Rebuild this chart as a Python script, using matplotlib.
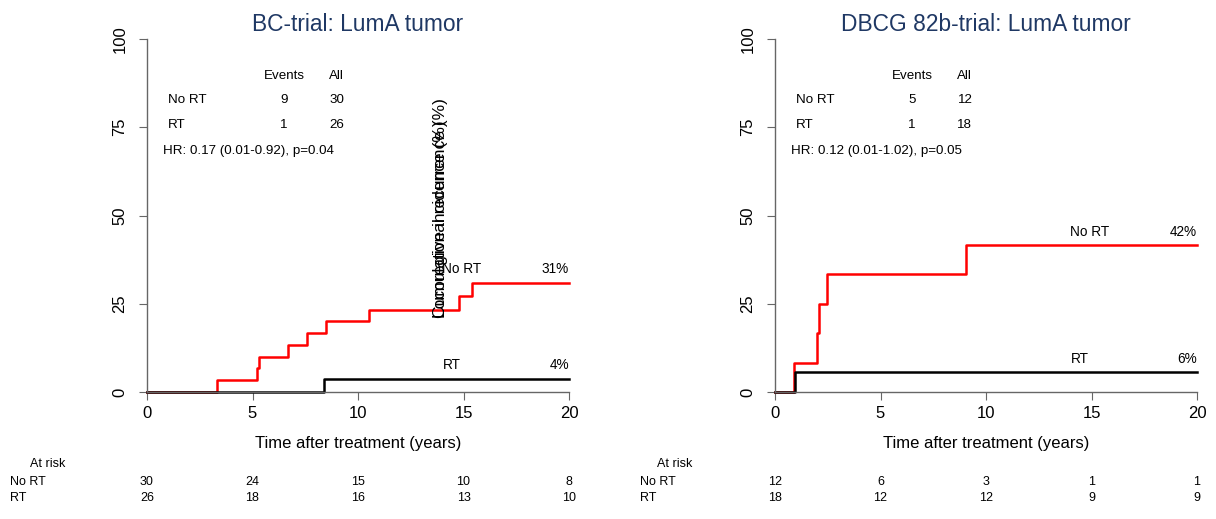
import matplotlib.pyplot as plt
import matplotlib.transforms as mtransforms

plt.rcParams['font.family'] = ['Liberation Sans', 'DejaVu Sans']

# --- data ---
titles = ["BC-trial: LumA tumor", "DBCG 82b-trial: LumA tumor"]

# cumulative incidence (%) step curves
bc_nort_t = [0, 3.3, 5.2, 5.3, 6.7, 7.6, 8.5, 10.5, 14.8, 15.4, 20]
bc_nort_y = [0, 3.3, 6.7, 10.0, 13.3, 16.7, 20.0, 23.3, 27.2, 31.0, 31.0]
bc_rt_t = [0, 8.4, 20]
bc_rt_y = [0, 3.8, 3.8]

db_nort_t = [0, 0.9, 2.0, 2.1, 2.45, 9.05, 20]
db_nort_y = [0, 8.3, 16.7, 25.0, 33.3, 41.7, 41.7]
db_rt_t = [0, 0.95, 20]
db_rt_y = [0, 5.6, 5.6]

end_pct = [["31%", "4%"], ["42%", "6%"]]
events = [[9, 1], [5, 1]]
totals = [[30, 26], [12, 18]]
hr_text = ["HR: 0.17 (0.01-0.92), p=0.04", "HR: 0.12 (0.01-1.02), p=0.05"]

risk_times = [0, 5, 10, 15, 20]
bc_risk_nort = [30, 24, 15, 10, 8]
bc_risk_rt = [26, 18, 16, 13, 10]
db_risk_nort = [12, 6, 3, 1, 1]
db_risk_rt = [18, 12, 12, 9, 9]

groups = ["No RT", "RT"]

curves = [[(bc_nort_t, bc_nort_y), (bc_rt_t, bc_rt_y)],
          [(db_nort_t, db_nort_y), (db_rt_t, db_rt_y)]]
risks = [[bc_risk_nort, bc_risk_rt], [db_risk_nort, db_risk_rt]]

fig = plt.figure(figsize=(12.16, 5.19), dpi=100)
W, H = 1216, 519
lefts = [147, 775]
gray = '#666666'
tfs = 9.6  # table font size

for i in range(2):
    x0 = lefts[i]
    ax = fig.add_axes([x0 / W, (H - 392) / H, 422 / W, 353 / H])
    ax.set_xlim(0, 20)
    ax.set_ylim(0, 100)
    for s in ['top', 'right']:
        ax.spines[s].set_visible(False)
    for s in ['left', 'bottom']:
        ax.spines[s].set_color(gray)
        ax.spines[s].set_linewidth(1.0)
    ax.set_xticks(risk_times)
    ax.set_yticks([0, 25, 50, 75, 100])
    ax.tick_params(axis='both', direction='out', length=6, color=gray,
                   labelsize=12, pad=4)
    for lab in ax.get_yticklabels():
        lab.set_rotation(90)
        lab.set_va('center')
    ax.tick_params(axis='y', pad=8)
    ax.set_xlabel("Time after treatment (years)", fontsize=12, labelpad=11)
    ax.set_title(titles[i], fontsize=16.4, color='#1f3864', pad=6)

    (tn, yn), (tr, yr) = curves[i]
    ax.step(tn, yn, where='post', color='red', lw=1.8, clip_on=False)
    ax.step(tr, yr, where='post', color='black', lw=1.8, clip_on=False)

    # end labels
    for (t, y), g, p in zip(curves[i], groups, end_pct[i]):
        ax.text(14, y[-1] + 2.6, g, fontsize=9.8, ha='left', va='baseline')
        ax.text(20, y[-1] + 2.6, p, fontsize=9.8, ha='right', va='baseline')

    # events table
    ax.text(6.5, 89.4, "Events", fontsize=tfs, ha='center', va='center')
    ax.text(9.0, 89.4, "All", fontsize=tfs, ha='center', va='center')
    for k, g in enumerate(groups):
        yy = 82.6 - k * 7.1
        ax.text(1.0, yy, g, fontsize=tfs, ha='left', va='center')
        ax.text(6.5, yy, str(events[i][k]), fontsize=tfs, ha='center', va='center')
        ax.text(9.0, yy, str(totals[i][k]), fontsize=tfs, ha='center', va='center')
    ax.text(0.75, 68.4, hr_text[i], fontsize=tfs, ha='left', va='center')

    # misplaced y axis labels (overlapping) in the first panel
    if i == 0:
        for lbl in ["Cumulative incidence (%)", "Locoregional recurrence (%)"]:
            ax.text(13.9, 21, lbl, fontsize=12.5, rotation=90,
                    ha='center', va='bottom')

    # at-risk table
    tr_blend = mtransforms.blended_transform_factory(ax.transData, fig.transFigure)
    for k, row in enumerate(risks[i]):
        yf = (H - 482 - k * 16) / H
        for t, n in zip(risk_times, row):
            ax.text(t, yf, str(n), transform=tr_blend, fontsize=9,
                    ha='center', va='center')
    lab_x = 10 if i == 0 else 640
    fig.text(lab_x / W, (H - 482) / H, "No RT", fontsize=9, va='center')
    fig.text(lab_x / W, (H - 498) / H, "RT", fontsize=9, va='center')
    risk_lab_x = 30 if i == 0 else 657
    fig.text(risk_lab_x / W, (H - 464) / H, "At risk", fontsize=9, va='center')

fig.savefig("out.png", dpi=100)
